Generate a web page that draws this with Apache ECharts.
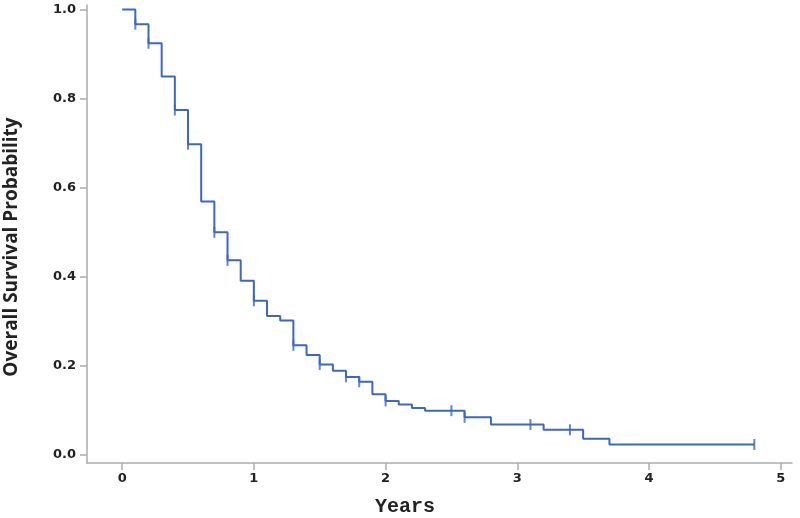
<!DOCTYPE html>
<html>
<head>
<meta charset="utf-8">
<script src="https://cdn.jsdelivr.net/npm/echarts@6/dist/echarts.min.js"></script>
<style>html,body{margin:0;padding:0;background:#fff}#c{width:800px;height:518px}</style>
</head>
<body>
<div id="c"></div>
<script>
// Kaplan-Meier step data (time in years, survival probability after the drop)
var stepTimes = [0, 0.1, 0.2, 0.3, 0.4, 0.5, 0.6, 0.7, 0.8, 0.9, 1.0, 1.1, 1.2, 1.3, 1.4, 1.5, 1.6, 1.7, 1.8, 1.9, 2.0, 2.1, 2.2, 2.3, 2.6, 2.8, 3.2, 3.5, 3.7, 4.8];
var stepSurv  = [1.0, 0.967, 0.924, 0.849, 0.774, 0.697, 0.568, 0.499, 0.436, 0.390, 0.345, 0.311, 0.301, 0.245, 0.223, 0.202, 0.188, 0.174, 0.163, 0.135, 0.120, 0.112, 0.104, 0.098, 0.083, 0.067, 0.055, 0.035, 0.022, 0.022];
// Censored observations
var censorTimes = [0.1, 0.2, 0.4, 0.5, 0.7, 0.8, 1.0, 1.3, 1.5, 1.7, 1.8, 2.0, 2.5, 2.6, 3.1, 3.4, 4.8];
var censorSurv  = [0.967, 0.924, 0.774, 0.697, 0.499, 0.436, 0.345, 0.245, 0.202, 0.174, 0.163, 0.120, 0.098, 0.083, 0.067, 0.055, 0.022];
var xTicks = [0, 1, 2, 3, 4, 5];
var yTicks = [0, 0.2, 0.4, 0.6, 0.8, 1.0];
var xTitle = 'Years';
var yTitle = 'Overall Survival Probability';

var lineColor = '#3a68c4';
var axisColor = '#a9acb0';

var chart = echarts.init(document.getElementById('c'), null, {renderer: 'canvas'});
chart.setOption({
  animation: false,
  backgroundColor: '#ffffff',
  grid: {left: 87, right: 8, top: 5, bottom: 55, containLabel: false},
  xAxis: {
    type: 'value', min: -0.267, max: 5.086,
    axisLine: {show: true, onZero: false, lineStyle: {color: axisColor, width: 1.5}},
    axisTick: {show: true, customValues: xTicks, length: 7, lineStyle: {color: axisColor, width: 1.5}},
    axisLabel: {customValues: xTicks, margin: 9, color: '#222', fontFamily: 'DejaVu Sans', fontWeight: 'bold', fontSize: 13},
    splitLine: {show: false}
  },
  yAxis: {
    type: 'value', min: -0.0196, max: 1.010,
    axisLine: {show: true, onZero: false, lineStyle: {color: axisColor, width: 1.5}},
    axisTick: {show: true, customValues: yTicks, length: 7, lineStyle: {color: axisColor, width: 1.5}},
    axisLabel: {customValues: yTicks, margin: 11, color: '#222', fontFamily: 'DejaVu Sans', fontWeight: 'bold', fontSize: 13,
      formatter: function (v) { return Number(v).toFixed(1); }},
    splitLine: {show: false}
  },
  graphic: [
    {type: 'text', x: 405, y: 507, style: {text: xTitle, fontFamily: 'Liberation Mono', fontWeight: 'bold', fontSize: 20, fill: '#222', align: 'center', verticalAlign: 'middle'}},
    {type: 'text', x: 12, y: 247, rotation: Math.PI / 2, style: {text: yTitle, fontFamily: 'Open Sans', fontWeight: 'bold', fontSize: 19, fill: '#222', align: 'center', verticalAlign: 'middle'}}
  ],
  series: [
    {
      type: 'line', step: 'end', showSymbol: false,
      data: stepTimes.map(function (t, i) { return [t, stepSurv[i]]; }),
      lineStyle: {color: lineColor, width: 2}
    },
    {
      type: 'scatter', symbol: 'rect', symbolSize: [2, 11],
      itemStyle: {color: lineColor},
      data: censorTimes.map(function (t, i) { return [t, censorSurv[i]]; })
    }
  ]
});
</script>
</body>
</html>
